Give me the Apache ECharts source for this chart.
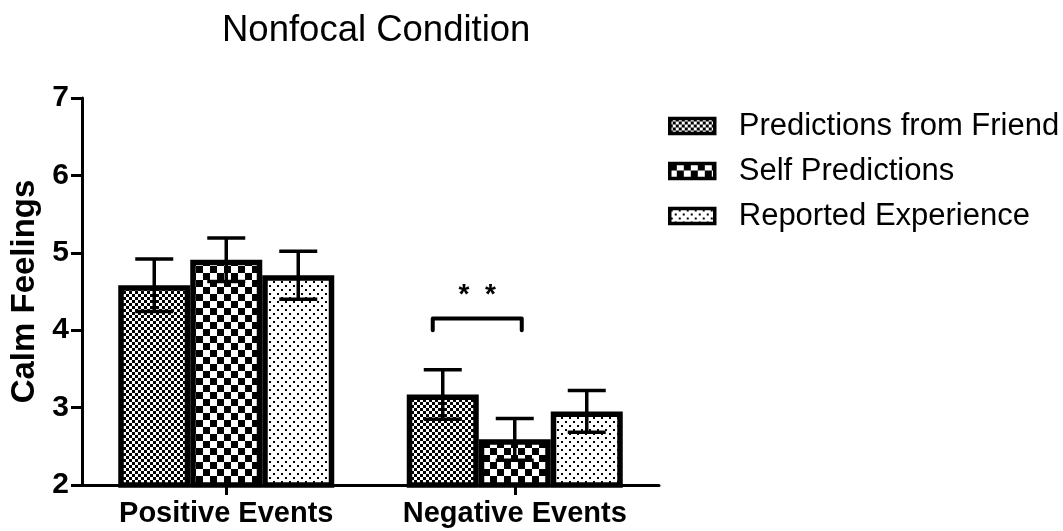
<!DOCTYPE html>
<html>
<head>
<meta charset="utf-8">
<script src="https://cdn.jsdelivr.net/npm/echarts@6/dist/echarts.min.js"></script>
<style>html,body{margin:0;padding:0;background:#fff;}#chart{width:1063px;height:531px;}</style>
</head>
<body>
<div id="chart"></div>
<script>
// ---- Data ----
const titleText = 'Nonfocal Condition';
const yAxisName = 'Calm Feelings';
const categories = ['Positive Events', 'Negative Events'];
const seriesNames = ['Predictions from Friend', 'Self Predictions', 'Reported Experience'];
const friendMeans = [4.58, 3.17];
const friendErrors = [0.34, 0.32];
const selfMeans = [4.91, 2.59];
const selfErrors = [0.28, 0.27];
const reportedMeans = [4.71, 2.95];
const reportedErrors = [0.31, 0.27];
const yTicks = [2, 3, 4, 5, 6, 7];
const sigCategory = 1;        // Negative Events
const sigFromBar = 0;         // Predictions from Friend
const sigToBar = 1;           // Self Predictions
const sigBracketY = 4.15;
const sigBracketEndY = 4.0;
const sigLabelY = 4.45;
const sigLabel = '* *';

// ---- Styles ----
const FONT = '"Liberation Sans", Arial, Helvetica, sans-serif';
const BAR_W = 72;

function makePattern(w, h, draw) {
  const c = document.createElement('canvas');
  c.width = w; c.height = h;
  const ctx = c.getContext('2d');
  ctx.fillStyle = '#fff'; ctx.fillRect(0, 0, w, h);
  ctx.fillStyle = '#000';
  draw(ctx);
  return { image: c, repeat: 'repeat' };
}
const patFriend = makePattern(6, 6, ctx => { ctx.fillRect(0, 0, 3, 3); ctx.fillRect(3, 3, 3, 3); });
const patSelf = makePattern(14, 14, ctx => { ctx.fillRect(0, 0, 7, 7); ctx.fillRect(7, 7, 7, 7); });
const patReported = makePattern(8, 8, ctx => { ctx.fillRect(1, 1, 2, 2); ctx.fillRect(5, 5, 2, 2); });
const patterns = [patFriend, patSelf, patReported];
const meansList = [friendMeans, selfMeans, reportedMeans];
const errorsList = [friendErrors, selfErrors, reportedErrors];

const chart = echarts.init(document.getElementById('chart'), null, { renderer: 'canvas' });

const barSeries = seriesNames.map((name, i) => ({
  name: name,
  type: 'bar',
  data: meansList[i],
  barWidth: BAR_W,
  barGap: '0%',
  itemStyle: { color: patterns[i], borderColor: '#000', borderWidth: 5.5 },
  emphasis: { disabled: true },
  z: 2
}));

const errSeries = seriesNames.map((name, i) => ({
  type: 'custom',
  name: name + ' error',
  data: meansList[i].map((m, k) => [k, m, errorsList[i][k]]),
  encode: { x: 0, y: 1 },
  z: 5,
  silent: true,
  renderItem: function (params, api) {
    const k = api.value(0), m = api.value(1), e = api.value(2);
    const top = api.coord([k, m + e]);
    const bot = api.coord([k, m - e]);
    const x = top[0] + (i - 1) * BAR_W;
    const cap = 19;
    const st = { stroke: '#000', lineWidth: 3.5 };
    return {
      type: 'group',
      children: [
        { type: 'line', shape: { x1: x, y1: top[1], x2: x, y2: bot[1] }, style: st },
        { type: 'line', shape: { x1: x - cap, y1: top[1], x2: x + cap, y2: top[1] }, style: st },
        { type: 'line', shape: { x1: x - cap, y1: bot[1], x2: x + cap, y2: bot[1] }, style: st }
      ]
    };
  }
}));

const sigSeries = {
  type: 'custom',
  name: 'significance',
  data: [[sigCategory, sigBracketY, sigBracketEndY, sigLabelY]],
  encode: { x: 0, y: 1 },
  z: 6,
  silent: true,
  renderItem: function (params, api) {
    const k = api.value(0);
    const p = api.coord([k, api.value(1)]);
    const pe = api.coord([k, api.value(2)]);
    const pl = api.coord([k, api.value(3)]);
    const x1 = p[0] + (sigFromBar - 1) * BAR_W - 10;
    const x2 = p[0] + (sigToBar - 1) * BAR_W + 7;
    const st = { stroke: '#000', lineWidth: 4, lineCap: 'round', lineJoin: 'round', fill: null };
    return {
      type: 'group',
      children: [
        { type: 'polyline', shape: { points: [[x1, pe[1]], [x1, p[1]], [x2, p[1]], [x2, pe[1]]] }, style: st },
        { type: 'text', style: { x: (x1 + x2) / 2, y: pl[1], text: sigLabel.replace(' ', '  '), align: 'center', verticalAlign: 'middle', font: 'bold 28px ' + FONT, fill: '#000' } }
      ]
    };
  }
};

chart.setOption({
  animation: false,
  backgroundColor: '#fff',
  title: {
    text: titleText,
    left: 222, top: 12,
    padding: 0,
    textStyle: { fontFamily: FONT, fontSize: 36.5, fontWeight: 'normal', color: '#000' }
  },
  legend: {
    data: seriesNames,
    orient: 'vertical',
    left: 668, top: 109,
    padding: 0,
    itemWidth: 45, itemHeight: 15,
    itemGap: 11,
    icon: 'rect',
    selectedMode: false,
    itemStyle: { borderColor: '#000', borderWidth: 3.5 },
    textStyle: { fontFamily: FONT, fontSize: 31, color: '#000', padding: [0, 0, 0, 19], lineHeight: 34 }
  },
  grid: { left: 82, right: 404, top: 98, bottom: 46, containLabel: false, outerBoundsMode: 'none' },
  xAxis: {
    type: 'category',
    data: categories,
    axisLine: { lineStyle: { color: '#000', width: 3 } },
    axisTick: { show: true, alignWithLabel: true, length: 10, lineStyle: { color: '#000', width: 3 } },
    axisLabel: { interval: 0, hideOverlap: false, fontFamily: FONT, fontSize: 29, fontWeight: 'bold', color: '#000', margin: 14 }
  },
  yAxis: {
    type: 'value',
    min: yTicks[0], max: yTicks[yTicks.length - 1], interval: 1,
    name: yAxisName,
    nameLocation: 'middle',
    nameGap: 40,
    nameTextStyle: { fontFamily: FONT, fontSize: 33, fontWeight: 'bold', color: '#000' },
    axisLine: { show: true, lineStyle: { color: '#000', width: 3 } },
    axisTick: { show: true, length: 11, lineStyle: { color: '#000', width: 3 } },
    axisLabel: { fontFamily: FONT, fontSize: 30, fontWeight: 'bold', color: '#000', margin: 13 },
    splitLine: { show: false }
  },
  series: [...barSeries, ...errSeries, sigSeries]
});
</script>
</body>
</html>
